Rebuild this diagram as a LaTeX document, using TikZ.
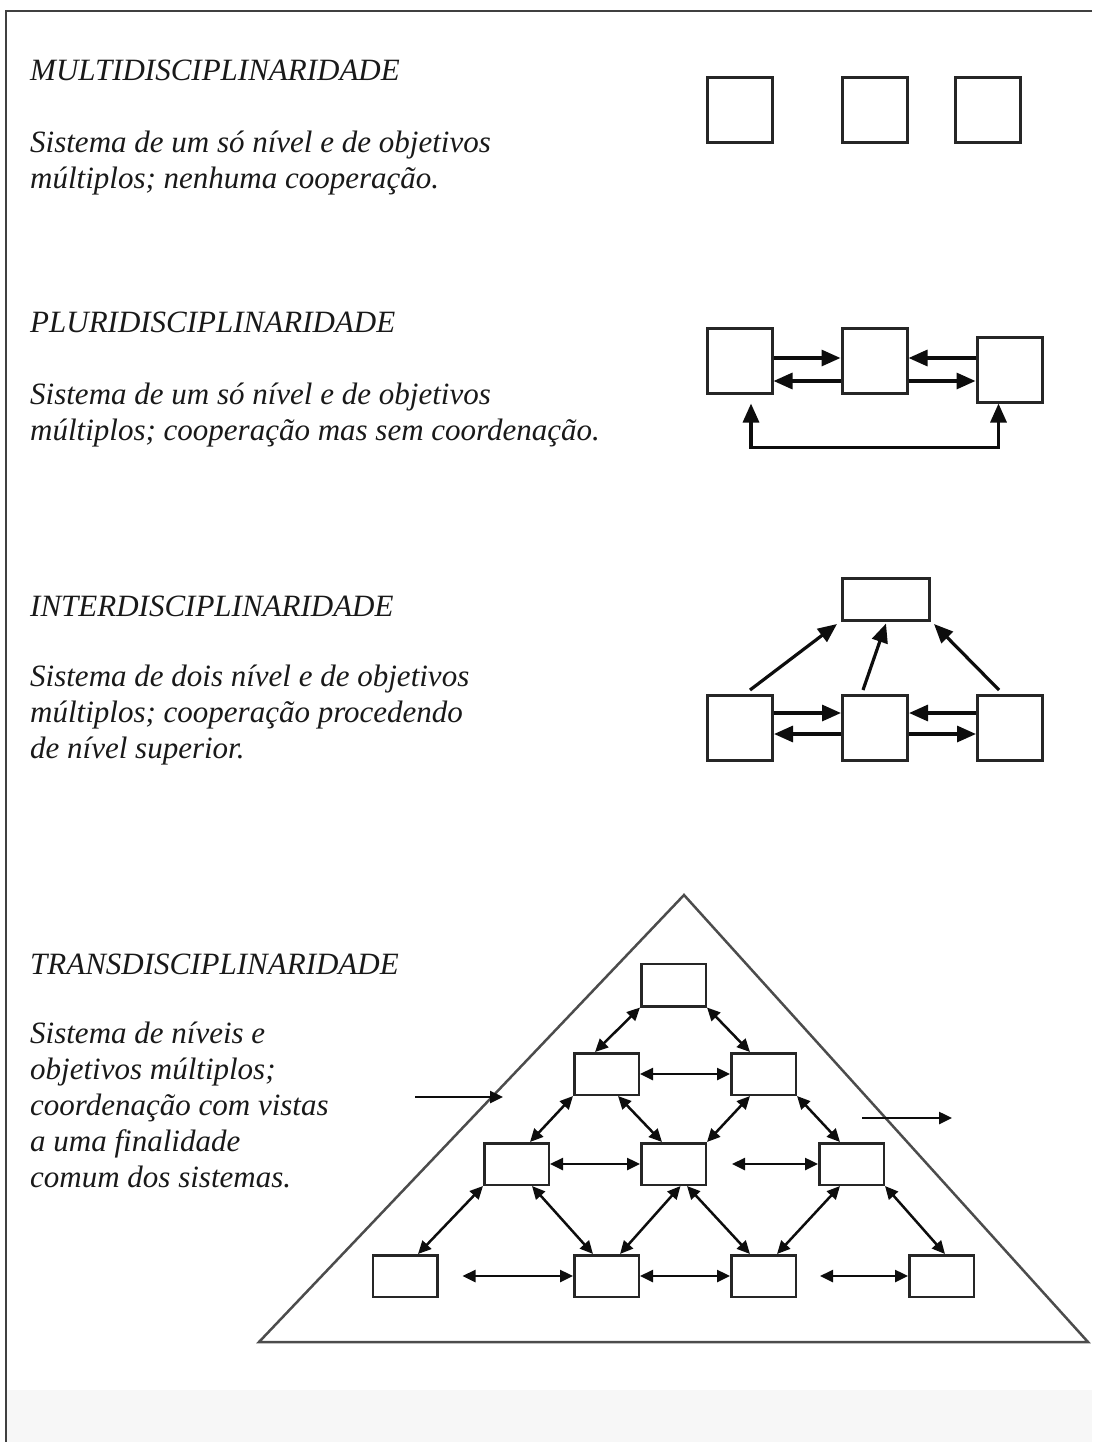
\documentclass[tikz,border=0pt]{standalone}
\usepackage{fontspec}
\setmainfont{Liberation Serif}
\usepackage{tikz}
\usetikzlibrary{arrows.meta}
\usetikzlibrary{positioning}

\tikzset{
  big/.tip={Triangle[length=19pt,width=16pt]},
  small/.tip={Triangle[length=13pt,width=12pt]},
  disc/.style={draw=black!85,line width=3pt,fill=white,inner sep=0pt,minimum width=65pt,minimum height=65pt},
  cell/.style={draw=black!85,line width=2.5pt,fill=white,inner sep=0pt,minimum width=64.5pt,minimum height=41.5pt},
  arr/.style={-big,line width=3.2pt,black!95},
  link/.style={small-small,line width=2.5pt,black!95},
  tarr/.style={-small,line width=2.5pt,black!95},
  txt/.style={anchor=base west,inner sep=0pt,align=left,text=black!90,font=\fontsize{31}{36}\selectfont\itshape}
}

\begin{document}
\begin{tikzpicture}[x=1pt,y=1pt,node distance=135pt]
   \useasboundingbox (0,0) rectangle (1092,-1442);
   % frame
   \fill[black!3] (7,-1390) rectangle (1092,-1442);
   \draw[black!75,line width=2pt] (1092,-11) -- (6,-11) -- (6,-1442);

   % texts (base = last line)
   \node[txt] (t_multi) at (30,-81)   {MULTIDISCIPLINARIDADE};
   \node[txt] (d_multi) at (30,-189)  {Sistema de um só nível e de objetivos\\múltiplos; nenhuma cooperação.};
   \node[txt] (t_pluri) at (30,-332)  {PLURIDISCIPLINARIDADE};
   \node[txt] (d_pluri) at (30,-440)  {Sistema de um só nível e de objetivos\\múltiplos; cooperação mas sem coordenação.};
   \node[txt] (t_inter) at (30,-616)  {INTERDISCIPLINARIDADE};
   \node[txt] (d_inter) at (30,-758)  {Sistema de dois nível e de objetivos\\múltiplos; cooperação procedendo\\de nível superior.};
   \node[txt] (t_trans) at (30,-974)  {TRANSDISCIPLINARIDADE};
   \node[txt] (d_trans) at (30,-1187) {Sistema de níveis e\\objetivos múltiplos;\\coordenação com vistas\\a uma finalidade\\comum dos sistemas.};

   % multi
   \node[disc] (m_1) at (740,-110) {};
   \node[disc] (m_2) [right of=m_1, node distance=134.5pt] {};
   \node[disc] (m_3) [right of=m_2, node distance=113pt] {};

   % pluri
   \node[disc] (p_1) at (739.5,-360.5) {};
   \node[disc] (p_2) [right of=p_1] {};
   \node[disc] (p_3) [right of=p_2, yshift=-9pt] {};
   \draw[arr] ([yshift=2.5pt]p_1.east) -- ([yshift=2.5pt]p_2.west);
   \draw[arr] ([yshift=-20.5pt]p_2.west) -- ([yshift=-20.5pt]p_1.east);
   \draw[arr] ([yshift=11.5pt]p_3.west) -- ([yshift=2.5pt]p_2.east);
   \draw[arr] ([yshift=-20.5pt]p_2.east) -- ([yshift=-11.5pt]p_3.west);
   \draw[big-big,line width=3.2pt,black!95] ([xshift=11.5pt,yshift=-9pt]p_1.south) -- ++(0,-44) -| ([xshift=-11pt]p_3.south);

   % inter
   \node[disc, minimum width=87pt, minimum height=42pt] (i_top) at (886,-599.5) {};
   \node[disc] (i_1) at (740,-728) {};
   \node[disc] (i_2) [right of=i_1] {};
   \node[disc] (i_3) [right of=i_2] {};
   \draw[arr] ([yshift=15pt]i_1.east) -- ([yshift=15pt]i_2.west);
   \draw[arr] ([yshift=-6pt]i_2.west) -- ([yshift=-6pt]i_1.east);
   \draw[arr] ([yshift=15pt]i_3.west) -- ([yshift=15pt]i_2.east);
   \draw[arr] ([yshift=-6pt]i_2.east) -- ([yshift=-6pt]i_3.west);
   \draw[arr] ([xshift=10pt,yshift=4pt]i_1.north) -- ([xshift=-4pt,yshift=-2pt]i_top.south west);
   \draw[arr] ([xshift=-12pt,yshift=4pt]i_2.north) -- ([yshift=-1.5pt]i_top.south);
   \draw[arr] ([xshift=-11pt,yshift=4pt]i_3.north) -- ([xshift=3pt,yshift=-2pt]i_top.south east);

   % trans
   \draw[black!70,line width=2.5pt] (684,-895) -- (1088,-1342) -- (259,-1342) -- cycle;
   \node[cell, minimum height=42.5pt] (r_1) at (673.5,-985) {};
   \node[cell] (r_2a) at (606.5,-1074) {};
   \node[cell] (r_2b) [right of=r_2a, node distance=157pt] {};
   \node[cell] (r_3a) at (516.5,-1164) {};
   \node[cell] (r_3b) [right of=r_3a, node distance=157pt] {};
   \node[cell] (r_3c) [right of=r_3b, node distance=178pt] {};
   \node[cell] (r_4a) at (405,-1276) {};
   \node[cell] (r_4b) [right of=r_4a, node distance=201.5pt] {};
   \node[cell] (r_4c) [right of=r_4b, node distance=157pt] {};
   \node[cell] (r_4d) [right of=r_4c, node distance=178pt] {};
   \coordinate (in_a)  at (415,-1097);
   \coordinate (in_b)  at (503,-1097);
   \coordinate (out_a) at (862,-1118);
   \coordinate (out_b) at (952,-1118);

   \draw[link] (r_1.south west) -- ([xshift=-11.5pt]r_2a.north);
   \draw[link] (r_1.south east) -- ([xshift=-13.5pt]r_2b.north);
   \draw[link] (r_2a.east) -- (r_2b.west);
   \draw[link] (r_2a.south west) -- ([xshift=13.5pt]r_3a.north);
   \draw[link] ([xshift=11.5pt]r_2a.south) -- ([xshift=-11.5pt]r_3b.north);
   \draw[link] ([xshift=-13.5pt]r_2b.south) -- (r_3b.north east);
   \draw[link] (r_2b.south east) -- ([xshift=-11.5pt]r_3c.north);
   \draw[link] (r_3a.east) -- (r_3b.west);
   \draw[link] ([xshift=25pt]r_3b.east) -- (r_3c.west);
   \draw[link] (r_3a.south west) -- ([xshift=13pt]r_4a.north);
   \draw[link] ([xshift=15.5pt]r_3a.south) -- ([xshift=-13.5pt]r_4b.north);
   \draw[link] ([xshift=7pt]r_3b.south) -- ([xshift=13.5pt]r_4b.north);
   \draw[link] ([xshift=13.5pt]r_3b.south) -- ([xshift=-13.5pt]r_4c.north);
   \draw[link] ([xshift=-11.5pt]r_3c.south) -- ([xshift=13.5pt]r_4c.north);
   \draw[link] (r_3c.south east) -- ([xshift=3.5pt]r_4d.north);
   \draw[link] ([xshift=24pt]r_4a.east) -- (r_4b.west);
   \draw[link] (r_4b.east) -- (r_4c.west);
   \draw[link] ([xshift=23pt]r_4c.east) -- (r_4d.west);
   \draw[tarr] (in_a) -- (in_b);
   \draw[tarr] (out_a) -- (out_b);
\end{tikzpicture}
\end{document}
